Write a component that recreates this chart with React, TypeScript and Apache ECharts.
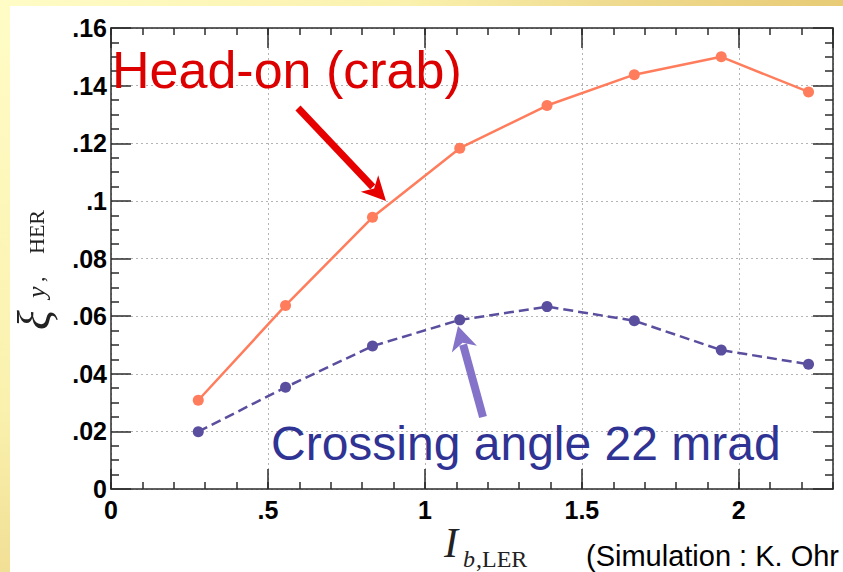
import React, { useEffect, useRef } from "react";
import * as echarts from "echarts";

// Beam current of the LER bunch (x) and vertical beam-beam parameter of the HER (y)
const currentX = [0.278, 0.556, 0.833, 1.111, 1.389, 1.667, 1.944, 2.222];
const headOnXi = [0.0308, 0.0637, 0.0943, 0.1183, 0.1331, 0.1438, 0.15, 0.1378];
const crossingXi = [0.0199, 0.0353, 0.0496, 0.0587, 0.0633, 0.0584, 0.0482, 0.0433];

const xMajorTicks = [0, 0.5, 1, 1.5, 2];
const xTickLabels = ["0", ".5", "1", "1.5", "2"];
const yTickLabels = ["0", ".02", ".04", ".06", ".08", ".1", ".12", ".14", ".16"];

const headOnLabel = "Head-on (crab)";
const crossingLabel = "Crossing angle 22 mrad";
const creditLabel = "(Simulation : K. Ohr";

const X_MIN = 0;
const X_MAX = 2.3;
const Y_MIN = 0;
const Y_MAX = 0.16;

const HEAD_ON_COLOR = "#ff7d5c";
const CROSSING_COLOR = "#5a4e9e";
const AXIS_COLOR = "#2b2b2b";

const tickFont = {
  fontFamily: "'Liberation Sans', Arial, sans-serif",
  fontWeight: "bold" as const,
  fontSize: 25,
  color: "#000",
};

function xLabel(v: number): string {
  const i = xMajorTicks.findIndex((t) => Math.abs(t - v) < 1e-6);
  return i >= 0 ? xTickLabels[i] : "";
}

function yLabel(v: number): string {
  const i = Math.round(v / 0.02);
  return Math.abs(i * 0.02 - v) < 1e-6 && yTickLabels[i] !== undefined ? yTickLabels[i] : "";
}

function xAxisDef(position: "top" | "bottom", interval: number, major: boolean) {
  return {
    type: "value" as const,
    position,
    min: X_MIN,
    max: X_MAX,
    interval,
    axisLine: { show: major, onZero: false, lineStyle: { color: AXIS_COLOR, width: 1.5 } },
    axisTick: { show: true, inside: true, length: major ? 20 : 7, lineStyle: { color: AXIS_COLOR, width: 1.5 } },
    axisLabel: {
      show: major && position === "bottom",
      margin: 8,
      formatter: xLabel,
      showMaxLabel: false,
      ...tickFont,
    },
    splitLine: {
      show: major && position === "bottom",
      lineStyle: { color: "#b4b4b4", width: 1, type: [2, 3] },
    },
  };
}

function yAxisDef(position: "left" | "right") {
  return {
    type: "value" as const,
    position,
    min: Y_MIN,
    max: Y_MAX,
    interval: 0.02,
    axisLine: { show: true, onZero: false, lineStyle: { color: AXIS_COLOR, width: 1.5 } },
    axisTick: { show: true, inside: true, length: 20, lineStyle: { color: AXIS_COLOR, width: 1.5 } },
    minorTick: { show: true, splitNumber: 4, length: 8, lineStyle: { color: AXIS_COLOR, width: 1.5 } },
    axisLabel: { show: position === "left", margin: 4, formatter: yLabel, ...tickFont },
    splitLine: {
      show: position === "left",
      lineStyle: { color: "#b4b4b4", width: 1, type: [2, 3] },
    },
  };
}

// Arrow made of a thick shaft and a barbed head
function arrow(
  tail: [number, number],
  tip: [number, number],
  color: string,
  width: number,
  headLen: number,
  headHalf: number
) {
  const dx = tip[0] - tail[0];
  const dy = tip[1] - tail[1];
  const len = Math.hypot(dx, dy);
  const ux = dx / len;
  const uy = dy / len;
  const px = -uy;
  const py = ux;
  const bx = tip[0] - ux * headLen;
  const by = tip[1] - uy * headLen;
  const nx = tip[0] - ux * headLen * 0.72;
  const ny = tip[1] - uy * headLen * 0.72;
  return [
    {
      type: "line",
      z: 20,
      silent: true,
      shape: { x1: tail[0], y1: tail[1], x2: nx - ux * 2, y2: ny - uy * 2 },
      style: { stroke: color, lineWidth: width, lineCap: "butt" },
    },
    {
      type: "polygon",
      z: 20,
      silent: true,
      shape: {
        points: [
          [tip[0], tip[1]],
          [bx + px * headHalf, by + py * headHalf],
          [nx, ny],
          [bx - px * headHalf, by - py * headHalf],
        ],
      },
      style: { fill: color },
    },
  ];
}

function text(
  str: string,
  x: number,
  y: number,
  font: string,
  fill: string,
  rotation = 0
) {
  return {
    type: "text",
    x,
    y,
    rotation,
    z: 30,
    silent: true,
    style: { text: str, font, fill, textAlign: "left", textVerticalAlign: "middle" },
  };
}

const SERIF = "'Liberation Serif', 'DejaVu Serif', serif";
const SANS = "'Liberation Sans', Arial, sans-serif";

export default function App() {
  const ref = useRef<HTMLDivElement>(null);

  useEffect(() => {
    if (!ref.current) return;
    const chart = echarts.init(ref.current, undefined, { renderer: "svg" });
    const R = Math.PI / 2;
    chart.setOption({
      animation: false,
      backgroundColor: "transparent",
      grid: { left: 111, top: 28, right: 10, bottom: 83, outerBoundsMode: "none" },
      xAxis: [
        xAxisDef("bottom", 0.5, true),
        xAxisDef("bottom", 0.1, false),
        xAxisDef("top", 0.5, true),
        xAxisDef("top", 0.1, false),
      ],
      yAxis: [yAxisDef("left"), yAxisDef("right")],
      series: [
        {
          type: "line",
          name: headOnLabel,
          xAxisIndex: 0,
          yAxisIndex: 0,
          data: currentX.map((x, i) => [x, headOnXi[i]]),
          symbol: "circle",
          symbolSize: 11,
          lineStyle: { color: HEAD_ON_COLOR, width: 2.5 },
          itemStyle: { color: HEAD_ON_COLOR },
          z: 5,
        },
        {
          type: "line",
          name: crossingLabel,
          xAxisIndex: 0,
          yAxisIndex: 0,
          data: currentX.map((x, i) => [x, crossingXi[i]]),
          symbol: "circle",
          symbolSize: 11,
          lineStyle: { color: CROSSING_COLOR, width: 2.5, type: [10, 5] },
          itemStyle: { color: CROSSING_COLOR },
          z: 5,
        },
      ],
      graphic: [
        // annotations
        text(headOnLabel, 112, 70, `52px ${SANS}`, "#dd0000"),
        text(crossingLabel, 271, 443, `48px ${SANS}`, "#2f3394"),
        ...arrow([298, 108], [386, 201], "#e60000", 7, 24, 12),
        ...arrow([483, 417], [458, 326], "#8573c9", 8, 24, 13),
        // x axis title: I_{b,LER}
        text("I", 444, 543, `italic 42px ${SERIF}`, "#222"),
        text("b", 463, 558.5, `italic 24px ${SERIF}`, "#222"),
        text(",LER", 476, 558.5, `24px ${SERIF}`, "#222"),
        text(creditLabel, 586, 556, `29px ${SANS}`, "#000"),
        // y axis title: xi_{y,HER}
        text("ξ", 34, 330, `italic 46px ${SERIF}`, "#222", R),
        text("y", 36, 298, `italic 26px ${SERIF}`, "#222", R),
        text(",", 36, 282, `22px ${SERIF}`, "#222", R),
        text("HER", 36, 254, `22px ${SERIF}`, "#222", R),
      ],
    });
    return () => chart.dispose();
  }, []);

  return (
    <div
      style={{
        position: "fixed",
        left: 0,
        top: 0,
        width: 843,
        height: 572,
        overflow: "hidden",
        background:
          "radial-gradient(circle at 0 0, #fffcc6 0%, #faf1ae 40%, #eed98c 62%, #e2c064 100%)",
      }}
    >
      <div
        style={{ position: "absolute", left: 10, top: 6, right: 0, bottom: 0, background: "#ffffff" }}
      />
      <div ref={ref} style={{ position: "absolute", left: 0, top: 0, width: 843, height: 572 }} />
    </div>
  );
}
